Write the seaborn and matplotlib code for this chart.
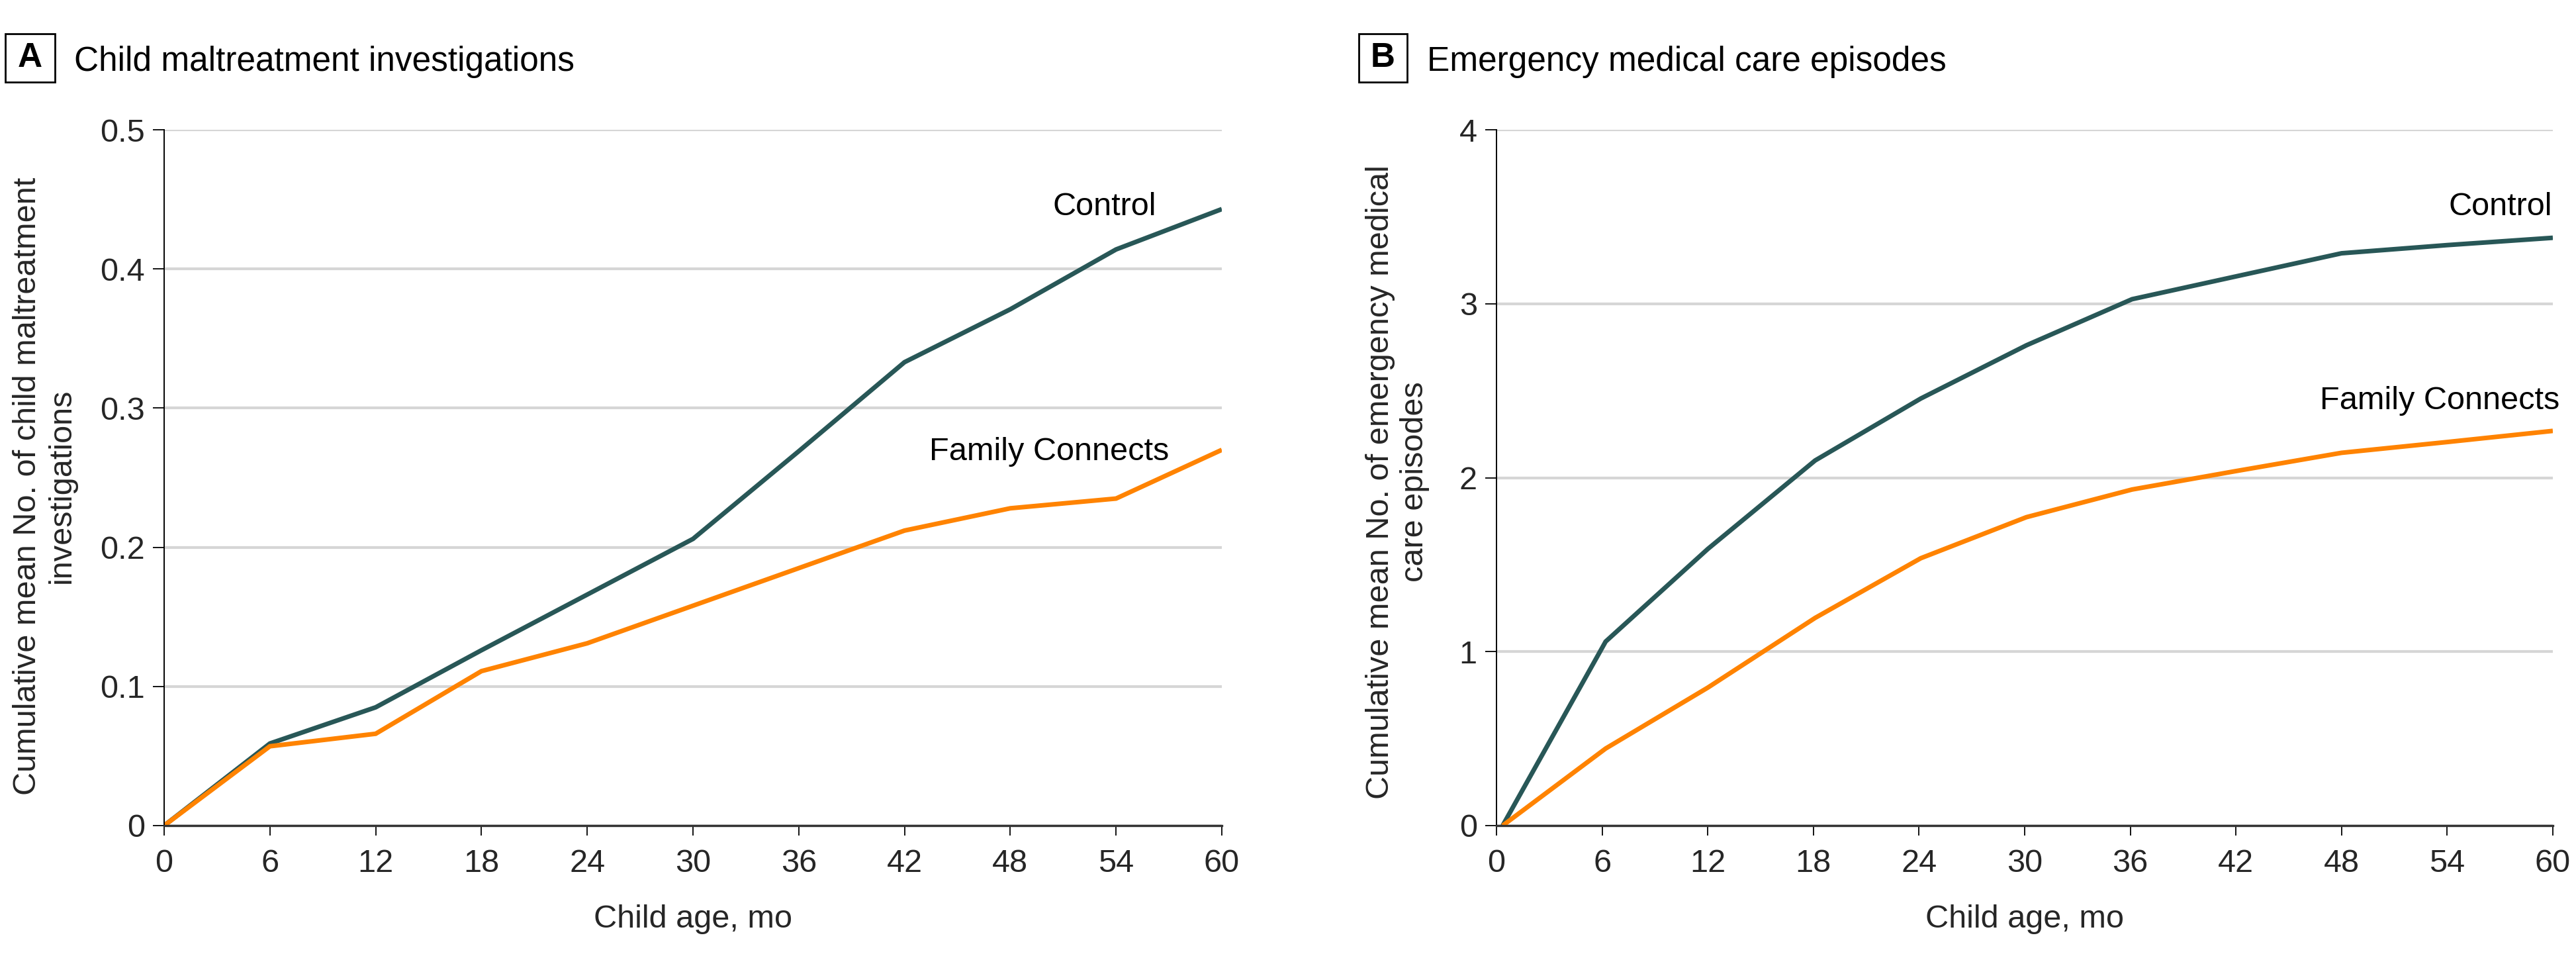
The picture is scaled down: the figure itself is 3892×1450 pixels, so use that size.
import matplotlib
matplotlib.use("Agg")
import matplotlib.pyplot as plt
import matplotlib.patches as mpatches
import seaborn as sns
import pandas as pd

# ---------------- data ----------------
groups = ["Control", "Family Connects"]

age_a = [0, 6, 12, 18, 24, 30, 36, 42, 48, 54, 60]
control_a = [0.0, 0.059, 0.085, 0.126, 0.166, 0.206, 0.269, 0.333, 0.371, 0.414, 0.443]
family_a = [0.0, 0.057, 0.066, 0.111, 0.131, 0.158, 0.185, 0.212, 0.228, 0.235, 0.270]

age_b = [0.35, 6.2, 12, 18.1, 24.1, 30.1, 36.1, 42, 48, 54, 60]
control_b = [0.0, 1.058, 1.59, 2.099, 2.455, 2.761, 3.026, 3.157, 3.290, 3.337, 3.379]
family_b = [0.0, 0.443, 0.793, 1.194, 1.537, 1.773, 1.932, 2.038, 2.143, 2.205, 2.269]

x_ticks = [0, 6, 12, 18, 24, 30, 36, 42, 48, 54, 60]
y_ticks_a = [0, 0.1, 0.2, 0.3, 0.4, 0.5]
y_ticklabels_a = ["0", "0.1", "0.2", "0.3", "0.4", "0.5"]
y_ticks_b = [0, 1, 2, 3, 4]
y_ticklabels_b = ["0", "1", "2", "3", "4"]

titles = ["Child maltreatment investigations", "Emergency medical care episodes"]
panel_letters = ["A", "B"]
y_labels = ["Cumulative mean No. of child maltreatment\ninvestigations",
            "Cumulative mean No. of emergency medical\ncare episodes"]
x_label = "Child age, mo"

# ---------------- style ----------------
sns.set_theme(style="white")
FONT = ["Liberation Sans", "DejaVu Sans"]
plt.rcParams["font.family"] = FONT

COLORS = {"Control": "#285757", "Family Connects": "#FF8300"}
W, H, DPI = 3892, 1450, 100
fig = plt.figure(figsize=(W / DPI, H / DPI), dpi=DPI)
fig.patch.set_facecolor("white")

def fx(px):
    return px / W

def fy(py):
    return 1 - py / H

axes_px = [(248, 1846), (2261, 3857)]
top_px, bot_px = 196, 1247

def make_df(x, c, f):
    return pd.DataFrame({
        "age": list(x) + list(x),
        "value": list(c) + list(f),
        "group": ["Control"] * len(x) + ["Family Connects"] * len(x),
    })

dfs = [make_df(age_a, control_a, family_a), make_df(age_b, control_b, family_b)]
ylims = [(0, 0.5), (0, 4)]
yticks = [y_ticks_a, y_ticks_b]
yticklabels = [y_ticklabels_a, y_ticklabels_b]
# label anchor positions (data coords): x right edge, baseline y
label_pos = [
    {"Control": (56.3, 0.4386), "Family Connects": (57.0, 0.2626)},
    {"Control": (59.95, 3.509), "Family Connects": (60.4, 2.394)},
]
ylabel_x_px = [67, 2112]
ylabel_y_frac = [0.488, 0.494]
box_px = [(8, 83), (2053, 2126)]
title_x_px = [112, 2156]

TICK_FS = 35
LAB_FS = 35
TITLE_FS = 37

for i in range(2):
    l, r = axes_px[i]
    ax = fig.add_axes([fx(l), fy(bot_px), fx(r - l), (bot_px - top_px) / H])
    sns.lineplot(data=dfs[i], x="age", y="value", hue="group", hue_order=groups,
                 palette=COLORS, linewidth=5.0, legend=False, ax=ax, sort=True,
                 zorder=3)
    for ln in ax.get_lines():
        ln.set_solid_joinstyle("miter")
        ln.set_solid_capstyle("butt")
    ax.set_xlim(0, 60)
    ax.set_ylim(*ylims[i])
    ax.set_xticks(x_ticks)
    ax.set_xticklabels([str(t) for t in x_ticks])
    ax.set_yticks(yticks[i])
    ax.set_yticklabels(yticklabels[i])
    ax.yaxis.grid(True, color="#d6d6d6", linewidth=3.0, zorder=0)
    ax.xaxis.grid(False)
    ax.set_axisbelow(True)
    for s in ["top", "right"]:
        ax.spines[s].set_visible(False)
    ax.spines["left"].set_color("black")
    ax.spines["left"].set_linewidth(1.4)
    ax.spines["bottom"].set_color("#333333")
    ax.spines["bottom"].set_linewidth(2.4)
    ax.spines["left"].set_zorder(4)
    ax.spines["bottom"].set_zorder(4)
    ax.tick_params(axis="x", which="major", direction="out", length=11, width=1.3,
                   color="black", pad=14, labelsize=TICK_FS, bottom=True)
    ax.tick_params(axis="y", which="major", direction="out", length=12, width=1.3,
                   color="black", pad=9, labelsize=TICK_FS, left=True)
    ax.set_xlabel(x_label, fontsize=LAB_FS, labelpad=28)
    ax.set_ylabel(y_labels[i], fontsize=LAB_FS, linespacing=1.2)
    ax.yaxis.set_label_coords((ylabel_x_px[i] - l) / (r - l), ylabel_y_frac[i])
    ax.yaxis.label.set_horizontalalignment("center")
    ax.yaxis.label.set_verticalalignment("center")

    for g in groups:
        xx, yy = label_pos[i][g]
        ax.text(xx, yy, g, ha="right", va="baseline", fontsize=LAB_FS, color="black")

    # panel letter box and title
    bx0, bx1 = box_px[i]
    rect = mpatches.Rectangle((fx(bx0), fy(124)), fx(bx1 - bx0), (124 - 51) / H,
                              transform=fig.transFigure, fill=False,
                              edgecolor="black", linewidth=2.0)
    fig.patches.append(rect)
    fig.text(fx((bx0 + bx1) / 2), fy(87.5), panel_letters[i], ha="center", va="center",
             fontsize=TITLE_FS, fontweight="bold", color="black")
    fig.text(fx(title_x_px[i]), fy(107), titles[i], ha="left", va="baseline",
             fontsize=TITLE_FS, color="black")

fig.savefig("out.png", dpi=DPI, facecolor="white")
